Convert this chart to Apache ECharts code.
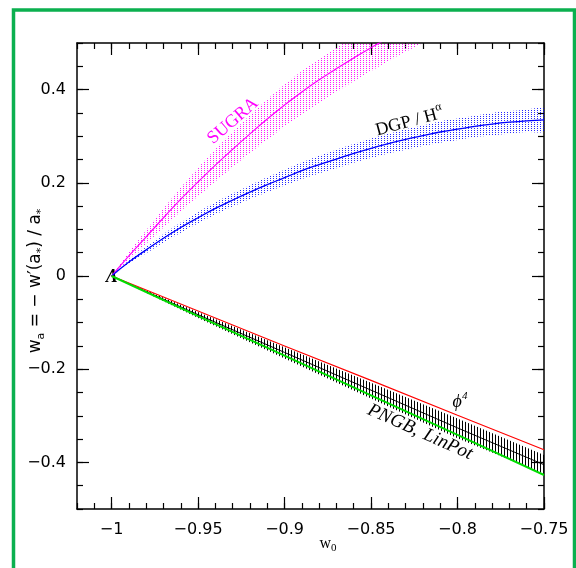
<!DOCTYPE html>
<html>
<head>
<meta charset="utf-8">
<script src="https://cdn.jsdelivr.net/npm/echarts@6/dist/echarts.min.js"></script>
<style>
  html, body { margin: 0; padding: 0; background: #fff; }
  #chart { width: 576px; height: 568px; }
</style>
</head>
<body>
<div id="chart"></div>
<script>
// w0 grid for the curved models
const w0Fine = [-1, -0.99, -0.98, -0.97, -0.96, -0.95, -0.94, -0.93, -0.92, -0.91, -0.9, -0.89, -0.88,
  -0.87, -0.86, -0.85, -0.84, -0.83, -0.82, -0.81, -0.8, -0.79, -0.78, -0.77, -0.76, -0.75]
// w0 grid for the straight models
const w0Coarse = [-1, -0.95, -0.9, -0.85, -0.8, -0.75]

const sugraMid = [0, 0.043, 0.084, 0.125, 0.165, 0.202, 0.238, 0.272, 0.305, 0.337, 0.367, 0.395, 0.421, 0.445, 0.468, 0.49, 0.511, 0.531, 0.55, 0.568]
const sugraHigh = [0, 0.051, 0.098, 0.145, 0.19, 0.232, 0.272, 0.309, 0.345, 0.379, 0.411, 0.44, 0.466, 0.49, 0.513, 0.535, 0.556, 0.576, 0.595, 0.613]
const sugraLow = [0, 0.035, 0.069, 0.104, 0.139, 0.171, 0.203, 0.234, 0.264, 0.293, 0.321, 0.347, 0.372, 0.395, 0.418, 0.44, 0.461, 0.481, 0.5, 0.518]

const dgpMid = [0, 0.03, 0.056, 0.081, 0.104, 0.125, 0.145, 0.163, 0.18, 0.196, 0.211, 0.226, 0.239, 0.251, 0.263, 0.274, 0.284, 0.293, 0.301, 0.309, 0.315, 0.321, 0.326, 0.33, 0.333, 0.335]
const dgpHigh = [0, 0.034, 0.063, 0.09, 0.115, 0.137, 0.158, 0.177, 0.195, 0.212, 0.228, 0.244, 0.258, 0.271, 0.283, 0.295, 0.305, 0.315, 0.323, 0.332, 0.338, 0.344, 0.35, 0.354, 0.357, 0.359]
const dgpLow = [0, 0.026, 0.049, 0.072, 0.093, 0.113, 0.132, 0.149, 0.165, 0.18, 0.194, 0.208, 0.22, 0.231, 0.243, 0.253, 0.263, 0.271, 0.279, 0.286, 0.292, 0.298, 0.302, 0.306, 0.309, 0.311]

const phi4 = [0, -0.075, -0.15, -0.224, -0.299, -0.373]
const linPot = [0, -0.086, -0.171, -0.256, -0.341, -0.427]
const pngbMid = [0, -0.083, -0.164, -0.245, -0.326, -0.405]
const pngbHigh = [0, -0.077, -0.153, -0.229, -0.306, -0.384]
const pngbLow = [0, -0.09, -0.177, -0.263, -0.348, -0.425]

const xTicks = [-1, -0.95, -0.9, -0.85, -0.8, -0.75]
const yTicks = [-0.4, -0.2, 0, 0.2, 0.4]

const fmt = v => (v < 0 ? '\u2212' : '') + Math.abs(v)

function hatch(color, dotted) {
  const c = document.createElement('canvas')
  c.width = 3
  c.height = dotted ? 2 : 1
  const ctx = c.getContext('2d')
  ctx.fillStyle = color
  ctx.fillRect(0, 0, 1, 1)
  return c
}

function pairs(xs, ys) {
  return ys.map((y, i) => [xs[i], y])
}

// shaded band between low and high, drawn as one polygon through the axes
function band(xs, low, high, pattern, smooth) {
  return {
    type: 'custom', silent: true,
    data: [0],
    renderItem: (params, api) => {
      const pts = []
      for (let i = 0; i < high.length; i++) pts.push(api.coord([xs[i], high[i]]))
      for (let i = low.length - 1; i >= 0; i--) pts.push(api.coord([xs[i], low[i]]))
      const cs = params.coordSys
      return {
        type: 'polygon',
        shape: { points: pts, smooth: smooth },
        style: { fill: { image: pattern, repeat: 'repeat' }, stroke: null },
        clipPath: { type: 'rect', shape: { x: cs.x, y: cs.y, width: cs.width, height: cs.height } }
      }
    }
  }
}

function line(xs, ys, color, width, smooth) {
  return {
    type: 'line', symbol: 'none', smooth: smooth, silent: true,
    lineStyle: { color: color, width: width },
    data: pairs(xs, ys)
  }
}

const tickStyle = { color: '#000', width: 1.2 }

function xAxisDef(pos, major, labels) {
  const a = {
    type: 'value', position: pos, min: -1.02, max: -0.75,
    axisLine: { show: major, onZero: false, lineStyle: { color: '#000', width: 1.5 } },
    splitLine: { show: false },
    axisLabel: { show: false }
  }
  if (major) {
    a.axisTick = { inside: true, length: 12, customValues: xTicks, lineStyle: tickStyle }
  } else {
    a.interval = 0.01
    a.axisTick = { inside: true, length: 6, lineStyle: tickStyle }
  }
  if (labels) {
    a.axisLabel = {
      show: true, customValues: xTicks, formatter: fmt, margin: 13,
      fontFamily: 'DejaVu Sans', fontSize: 16, color: '#000'
    }
  }
  return a
}

function yAxisDef(pos, major, labels) {
  const a = {
    type: 'value', position: pos, min: -0.5, max: 0.5,
    axisLine: { show: major, onZero: false, lineStyle: { color: '#000', width: 1.5 } },
    splitLine: { show: false },
    axisLabel: { show: false }
  }
  if (major) {
    a.axisTick = { inside: true, length: 12, customValues: yTicks, lineStyle: tickStyle }
  } else {
    a.interval = 0.05
    a.axisTick = { inside: true, length: 6, lineStyle: tickStyle }
  }
  if (labels) {
    a.axisLabel = {
      show: true, customValues: yTicks, formatter: fmt, margin: 11,
      fontFamily: 'DejaVu Sans', fontSize: 16, color: '#000'
    }
  }
  return a
}

const chart = echarts.init(document.getElementById('chart'))

const series = [
  band(w0Fine, sugraLow, sugraHigh, hatch('rgba(255,0,255,0.9)', true), 0.3),
  band(w0Fine, dgpLow, dgpHigh, hatch('rgba(0,0,255,0.85)', true), 0.3),
  band(w0Coarse, pngbLow, pngbHigh, hatch('#000', false), 0),
  line(w0Fine, sugraMid, '#ff00ff', 1.2, true),
  line(w0Fine, dgpMid, '#0000ff', 1.3, true),
  line(w0Coarse, pngbMid, '#000', 1, false),
  line(w0Coarse, phi4, '#ff0000', 1.1, false),
  line(w0Coarse, linPot, '#00dd00', 2, false)
]

const serif = 'Liberation Serif'

chart.setOption({
  animation: false,
  grid: { left: 77, top: 43, width: 467, height: 466, containLabel: false },
  xAxis: [
    xAxisDef('bottom', false, false),
    xAxisDef('bottom', true, true),
    xAxisDef('top', false, false),
    xAxisDef('top', true, false)
  ],
  yAxis: [
    yAxisDef('left', false, false),
    yAxisDef('left', true, true),
    yAxisDef('right', false, false),
    yAxisDef('right', true, false)
  ],
  series: series,
  graphic: [
    {
      type: 'rect', silent: true,
      shape: { x: 13.5, y: 10, width: 561, height: 620 },
      style: { fill: 'none', stroke: '#0bb04f', lineWidth: 3.5 }
    },
    {
      type: 'text', x: 233, y: 121, rotation: 41 * Math.PI / 180,
      style: { text: 'SUGRA', font: '18px "Liberation Serif"', fill: '#ff00ff', align: 'center', verticalAlign: 'middle' }
    },
    {
      type: 'text', x: 409, y: 120, rotation: 15 * Math.PI / 180,
      style: {
        text: '{m|DGP / H}{s|\u03b1}', align: 'center', verticalAlign: 'middle',
        rich: {
          m: { fontFamily: serif, fontSize: 18, color: '#0000ff', lineHeight: 22, verticalAlign: 'bottom' },
          s: { fontFamily: serif, fontSize: 12, color: '#0000ff', lineHeight: 12, verticalAlign: 'top' }
        }
      }
    },
    {
      type: 'text', x: 112, y: 277,
      style: { text: '\u039b', font: 'italic bold 18px "Liberation Serif"', fill: '#000', align: 'center', verticalAlign: 'middle' }
    },
    {
      type: 'text', x: 460, y: 401,
      style: {
        text: '{m|\u03d5}{s|4}', align: 'center', verticalAlign: 'middle',
        rich: {
          m: { fontFamily: serif, fontStyle: 'italic', fontSize: 18, color: '#ff0000', lineHeight: 20, verticalAlign: 'bottom' },
          s: { fontFamily: serif, fontStyle: 'italic', fontSize: 11, color: '#ff0000', lineHeight: 11, verticalAlign: 'top' }
        }
      }
    },
    {
      type: 'text', x: 420, y: 432, rotation: -24 * Math.PI / 180,
      style: {
        text: '{a|PNGB,}  {b|LinPot}', align: 'center', verticalAlign: 'middle',
        rich: {
          a: { fontFamily: serif, fontStyle: 'italic', fontSize: 19, color: '#000' },
          b: { fontFamily: serif, fontStyle: 'italic', fontSize: 19, color: '#00ee00' }
        }
      }
    },
    {
      type: 'text', x: 36, y: 281, rotation: Math.PI / 2,
      style: {
        text: '{m|w}{s|a}{m| = \u2212 w\u2032(a}{s|*}{m|) / a}{s|*}', align: 'center', verticalAlign: 'middle',
        rich: {
          m: { fontFamily: 'DejaVu Sans', fontSize: 17, color: '#000', lineHeight: 22, verticalAlign: 'middle' },
          s: { fontFamily: 'DejaVu Sans', fontSize: 11, color: '#000', lineHeight: 11, verticalAlign: 'bottom' }
        }
      }
    },
    {
      type: 'text', x: 328, y: 544,
      style: {
        text: '{m|w}{s|0}', align: 'center', verticalAlign: 'middle',
        rich: {
          m: { fontFamily: serif, fontSize: 16, color: '#000', lineHeight: 20, verticalAlign: 'middle' },
          s: { fontFamily: serif, fontSize: 11, color: '#000', lineHeight: 11, verticalAlign: 'bottom' }
        }
      }
    }
  ]
})
</script>
</body>
</html>
